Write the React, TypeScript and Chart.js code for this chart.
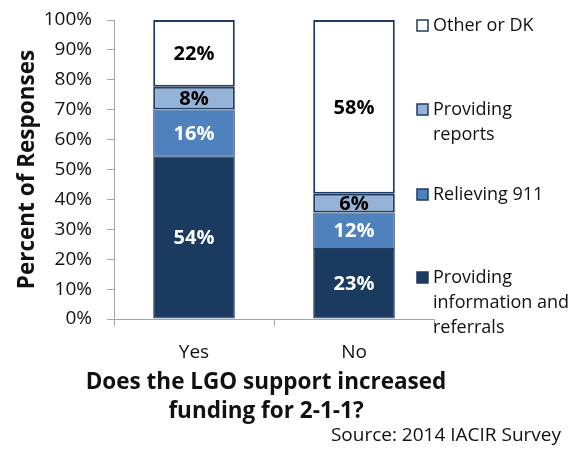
import { useEffect, useRef } from "react";
import { Chart, registerables } from "chart.js";

Chart.register(...registerables);

// ---- data ----
const categories = ["Yes", "No"];
const seriesNames = [
  "Providing information and referrals",
  "Relieving 911",
  "Providing reports",
  "Other or DK",
];
const infoReferrals = [54.3, 23.4];
const relieving911 = [15.8, 12.2];
const providingReports = [7.6, 6.3];
const otherDK = [22.3, 58.1];
const legendLines = [
  ["Other or DK"],
  ["Providing", "reports"],
  ["Relieving 911"],
  ["Providing", "information and", "referrals"],
];
const xTitle = ["Does the LGO support increased", "funding for 2-1-1?"];
const yTitle = "Percent of Responses";
const sourceNote = "Source: 2014 IACIR Survey";

// ---- styles ----
const FONT = "'Open Sans'";
const NAVY = "#1B3A5F";
const BORDER = "#1F3B63";
const MID = "#4F81BD";
const LIGHT = "#95B3D7";
const WHITE = "#FFFFFF";
const AXIS = "#A6A6A6";
const TEXT = "#111111";
const fills = [NAVY, MID, LIGHT, WHITE];
const labelColors = ["#FFFFFF", "#FFFFFF", "#000000", "#000000"];
const legendOffsets = [6, 90, 175, 258];

const valueLabels = {
  id: "valueLabels",
  afterDatasetsDraw(chart: any) {
    const ctx = chart.ctx;
    ctx.save();
    ctx.font = `bold 20px ${FONT}`;
    ctx.textAlign = "center";
    ctx.textBaseline = "middle";
    chart.data.datasets.forEach((ds: any, i: number) => {
      const meta = chart.getDatasetMeta(i);
      meta.data.forEach((bar: any, j: number) => {
        const { x, y, base } = bar.getProps(["x", "y", "base"], true);
        ctx.fillStyle = labelColors[i];
        ctx.fillText(Math.round(ds.data[j]) + "%", x, (y + base) / 2 + 1);
      });
    });
    ctx.restore();
  },
};

const sideLegend = {
  id: "sideLegend",
  afterDraw(chart: any) {
    const ctx = chart.ctx;
    const { left, right, top, bottom } = chart.chartArea;
    ctx.save();
    ctx.font = `18px ${FONT}`;
    ctx.textBaseline = "middle";
    ctx.textAlign = "left";
    const order = [3, 2, 1, 0];
    order.forEach((dsIndex, k) => {
      const y0 = top + legendOffsets[k];
      const bx = right - 17;
      ctx.fillStyle = fills[dsIndex];
      ctx.fillRect(bx, y0 - 6, 11, 11);
      ctx.strokeStyle = BORDER;
      ctx.lineWidth = 1.5;
      ctx.strokeRect(bx, y0 - 6, 11, 11);
      ctx.fillStyle = TEXT;
      legendLines[k].forEach((line, li) => {
        ctx.fillText(line, right - 1, y0 + li * 25);
      });
    });
    // x-axis title (wider than the axis, so drawn here)
    ctx.font = `bold 22.5px ${FONT}`;
    ctx.textAlign = "center";
    const cx = (left + right) / 2 - 8;
    xTitle.forEach((line, li) => {
      ctx.fillText(line, cx, bottom + 64 + li * 29);
    });
    ctx.font = `19px ${FONT}`;
    ctx.textAlign = "right";
    ctx.fillText(sourceNote, chart.width - 21, chart.height - 14);
    ctx.restore();
  },
};

export default function App() {
  const ref = useRef<HTMLCanvasElement>(null);
  useEffect(() => {
    document.body.style.margin = "0";
    const datasets = [infoReferrals, relieving911, providingReports, otherDK].map(
      (d, i) => ({
        label: seriesNames[i],
        data: d,
        backgroundColor: fills[i],
        borderColor: BORDER,
        borderWidth: i >= 2 ? 2 : 1,
        borderSkipped: false,
        categoryPercentage: 1,
        barPercentage: 0.51,
      })
    );
    const chart = new Chart(ref.current!, {
      type: "bar",
      data: { labels: categories, datasets },
      plugins: [valueLabels, sideLegend],
      options: {
        animation: false,
        responsive: true,
        maintainAspectRatio: false,
        layout: { padding: { top: 20, right: 148, left: 0, bottom: 0 } },
        plugins: { legend: { display: false }, tooltip: { enabled: false } },
        scales: {
          x: {
            stacked: true,
            grid: {
              display: true,
              drawOnChartArea: false,
              drawTicks: true,
              tickLength: 7,
              color: AXIS,
              offset: true,
            },
            border: { color: AXIS, width: 1 },
            ticks: { color: TEXT, font: { family: FONT, size: 19 }, padding: 15 },
            title: { display: false },
            afterFit(s: any) {
              s.height = 131;
              s.paddingLeft = 0;
              s.paddingRight = 0;
            },
          },
          y: {
            stacked: true,
            min: 0,
            max: 100,
            grid: {
              display: true,
              drawOnChartArea: false,
              drawTicks: true,
              tickLength: 7,
              color: AXIS,
            },
            border: { color: AXIS, width: 1 },
            ticks: {
              stepSize: 10,
              color: TEXT,
              font: { family: FONT, size: 19 },
              padding: 15,
              callback: (v: any) => v + "%",
            },
            title: {
              display: true,
              text: yTitle,
              color: TEXT,
              font: { family: FONT, size: 22.5, weight: "bold", lineHeight: 1.2 },
              padding: { top: 14, bottom: 0 },
            },
            afterFit(s: any) {
              s.width = 114;
              s.paddingTop = 0;
              s.paddingBottom = 0;
            },
          },
        },
      } as any,
    });
    return () => chart.destroy();
  }, []);
  return (
    <div style={{ width: 582, height: 450, position: "relative" }}>
      <canvas ref={ref} />
    </div>
  );
}
